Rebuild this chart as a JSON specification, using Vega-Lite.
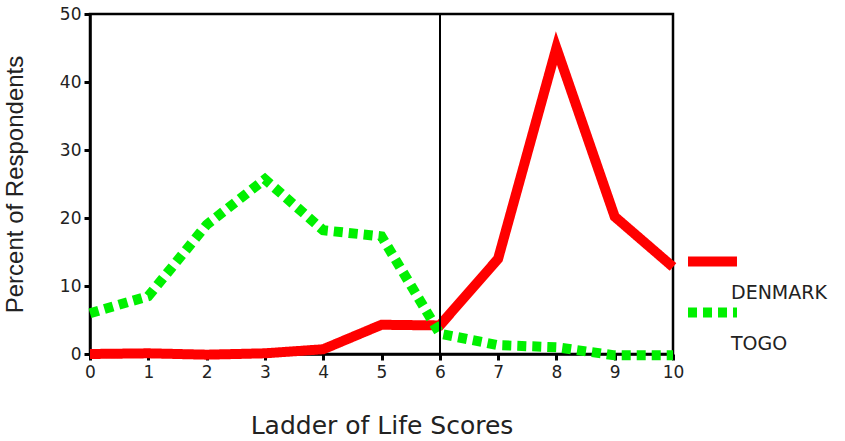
{
  "$schema": "https://vega.github.io/schema/vega-lite/v6.json",
  "width": 583,
  "height": 340,
  "autosize": {"type": "none"},
  "padding": {"left": 90, "top": 14, "right": 172, "bottom": 87},
  "background": "white",
  "config": {
    "view": {"stroke": "black", "strokeWidth": 2.5},
    "axis": {
      "grid": false,
      "domainColor": "black",
      "domainWidth": 2.5,
      "tickColor": "black",
      "tickWidth": 3,
      "tickSize": 6,
      "labelFont": "DejaVu Sans",
      "labelFontSize": 17,
      "labelColor": "#222",
      "titleColor": "#222",
      "titleFontWeight": "normal"
    }
  },
  "data": {
    "values": [
      {"score": 0, "country": "DENMARK", "pct": 0},
      {"score": 1, "country": "DENMARK", "pct": 0.1},
      {"score": 2, "country": "DENMARK", "pct": -0.1},
      {"score": 3, "country": "DENMARK", "pct": 0.1},
      {"score": 4, "country": "DENMARK", "pct": 0.7},
      {"score": 5, "country": "DENMARK", "pct": 4.3},
      {"score": 6, "country": "DENMARK", "pct": 4.2},
      {"score": 7, "country": "DENMARK", "pct": 14},
      {"score": 8, "country": "DENMARK", "pct": 45},
      {"score": 9, "country": "DENMARK", "pct": 20.2},
      {"score": 10, "country": "DENMARK", "pct": 12.8},
      {"score": 0, "country": "TOGO", "pct": 6},
      {"score": 1, "country": "TOGO", "pct": 8.5},
      {"score": 2, "country": "TOGO", "pct": 19},
      {"score": 3, "country": "TOGO", "pct": 25.7},
      {"score": 4, "country": "TOGO", "pct": 18.2},
      {"score": 5, "country": "TOGO", "pct": 17.3},
      {"score": 6, "country": "TOGO", "pct": 3},
      {"score": 7, "country": "TOGO", "pct": 1.3},
      {"score": 8, "country": "TOGO", "pct": 1},
      {"score": 9, "country": "TOGO", "pct": -0.2},
      {"score": 10, "country": "TOGO", "pct": -0.2}
    ]
  },
  "layer": [
    {
      "mark": {"type": "line", "strokeWidth": 10, "strokeCap": "butt"},
      "encoding": {
        "x": {
          "field": "score",
          "type": "quantitative",
          "scale": {"domain": [0, 10], "nice": false},
          "axis": {
            "values": [0, 1, 2, 3, 4, 5, 6, 7, 8, 9, 10],
            "format": "d",
            "labelFlush": false,
            "labelPadding": 4,
            "title": "Ladder of Life Scores",
            "titleFont": "DejaVu Sans",
            "titleFontSize": 25,
            "titlePadding": 33
          }
        },
        "y": {
          "field": "pct",
          "type": "quantitative",
          "scale": {"domain": [0, 50], "nice": false, "zero": false},
          "axis": {
            "values": [0, 10, 20, 30, 40, 50],
            "format": "d",
            "labelPadding": 3,
            "title": "Percent of Respondents",
            "titleFont": "Liberation Sans",
            "titleFontSize": 24,
            "titlePadding": 32,
            "encode": {"labels": {"update": {"dy": {"signal": "datum.value === 0 ? -10 : 0"}}}}
          }
        },
        "color": {
          "field": "country",
          "type": "nominal",
          "scale": {"domain": ["DENMARK", "TOGO"], "range": ["#ff0000", "#00f000"]},
          "legend": {
            "orient": "none",
            "values": ["DENMARK"],
            "legendX": 602,
            "legendY": 252,
            "title": null,
            "symbolType": "M-1.58,-1.613H1.58",
            "symbolSize": 961,
            "symbolStrokeWidth": 10,
            "labelFont": "DejaVu Sans",
            "labelFontSize": 19,
            "labelColor": "#222",
            "labelOffset": -2,
            "padding": 0,
            "rowPadding": 0,
            "encode": {"labels": {"update": {"dy": {"value": 6}}}}
          }
        },
        "strokeDash": {
          "field": "country",
          "type": "nominal",
          "scale": {"domain": ["TOGO", "DENMARK"], "range": [[9, 6], [1, 0]]},
          "legend": {
            "orient": "none",
            "values": ["TOGO"],
            "legendX": 602,
            "legendY": 303,
            "title": null,
            "symbolType": "M-1.58,-1.613H1.58",
            "symbolSize": 961,
            "symbolStrokeWidth": 10,
            "symbolStrokeColor": "#00f000",
            "labelFont": "DejaVu Sans",
            "labelFontSize": 19,
            "labelColor": "#222",
            "labelOffset": -2,
            "padding": 0,
            "rowPadding": 0,
            "encode": {
              "labels": {"update": {"dy": {"value": 6}}},
              "symbols": {"update": {"stroke": {"value": "#00f000"}}}
            }
          }
        }
      }
    },
    {
      "mark": {"type": "rule", "color": "black", "strokeWidth": 1.5},
      "encoding": {"x": {"datum": 6}}
    }
  ]
}
